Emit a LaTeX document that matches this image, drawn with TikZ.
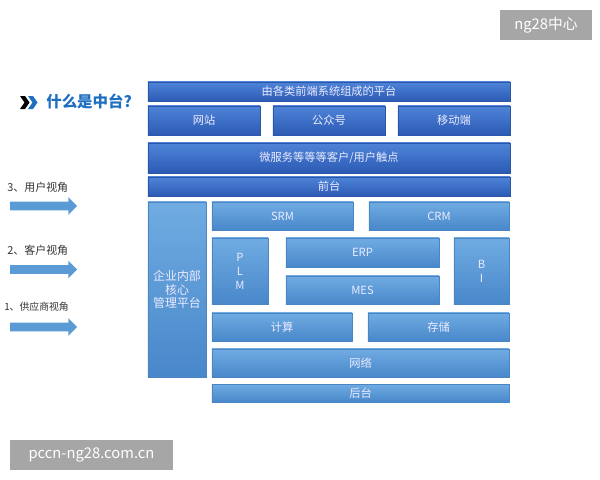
\documentclass[tikz,border=0pt]{standalone}
\usepackage{fontspec}
\setmainfont{Noto Sans CJK SC}
\usepackage{tikz}
\usetikzlibrary{shapes.arrows}

\definecolor{frontTop}{HTML}{4E84D8}
\definecolor{frontBot}{HTML}{2C5AB4}
\definecolor{frontEdge}{HTML}{2A55A8}
\definecolor{backTop}{HTML}{70ACE2}
\definecolor{backBot}{HTML}{4887CA}
\definecolor{backEdge}{HTML}{4A86C4}
\definecolor{titleBlue}{HTML}{1F6FC0}
\definecolor{arrowBlue}{HTML}{5B9BD5}
\definecolor{markGray}{HTML}{A6A6A6}

\begin{document}
\begin{tikzpicture}[x=0.025cm, y=-0.025cm,
    front/.style={draw=frontEdge, line width=0.3pt, top color=frontTop, bottom color=frontBot, text=white!92!blue, font=\fontsize{8}{10}\selectfont, inner sep=0pt, align=center},
    back/.style={draw=backEdge, line width=0.3pt, top color=backTop, bottom color=backBot, text=white!92!blue, font=\fontsize{8}{10}\selectfont, inner sep=0pt, align=center},
    view/.style={single arrow, fill=arrowBlue, inner sep=0.1cm, minimum width=0.425cm, minimum height=1.675cm, single arrow head extend=0.1125cm},
    viewlab/.style={anchor=west, inner sep=0pt, text=black!80, font=\fontsize{7.8}{10}\selectfont},
    wmark/.style={fill=markGray, text=white, inner sep=0pt, font=\fontsize{10.5}{12}\selectfont}
]
\useasboundingbox (0,0) rectangle (600,480);

% title
\fill (20,96) -- (25,96) -- (29.5,102.5) -- (25,109) -- (20,109) -- (24.5,102.5) -- cycle;
\fill[titleBlue] (28,96) -- (33,96) -- (37.5,102.5) -- (33,109) -- (28,109) -- (32.5,102.5) -- cycle;
\node[anchor=west, inner sep=0pt, text=titleBlue, font=\fontsize{11}{13}\selectfont\bfseries] (title) at (46,101) {什么是中台?};

% front layers
\node[front, minimum width=9.05cm, minimum height=0.475cm] (platform) at (329,91.5) {由各类前端系统组成的平台};
\node[front, minimum width=2.8cm, minimum height=0.725cm] (web) at (204,120.5) {网站};
\node[front, minimum width=2.8cm, minimum height=0.725cm] (wechat) at (329,120.5) {公众号};
\node[front, minimum width=2.8cm, minimum height=0.725cm] (mobile) at (454,120.5) {移动端};
\node[front, minimum width=9.05cm, minimum height=0.75cm] (touch) at (329,158) {微服务等等等客户/用户触点};
\node[front, minimum width=9.05cm, minimum height=0.475cm] (fore) at (329,186.5) {前台};

% core and back layers
\node[back, minimum width=1.45cm, minimum height=4.375cm, font=\fontsize{8.5}{9.6}\selectfont] (core) at (177,289.5) {企业内部\\核心\\管理平台};
\node[back, minimum width=3.525cm, minimum height=0.7cm] (srm) at (282.5,216) {SRM};
\node[back, minimum width=3.5cm, minimum height=0.7cm] (crm) at (439,216) {CRM};
\node[back, minimum width=1.4cm, minimum height=1.65cm] (plm) at (240,271) {P\\L\\M};
\node[back, minimum width=3.825cm, minimum height=0.725cm] (erp) at (362.5,252.5) {ERP};
\node[back, minimum width=3.825cm, minimum height=0.7cm] (mes) at (362.5,290) {MES};
\node[back, minimum width=1.375cm, minimum height=1.65cm] (bi) at (481.5,271) {B\\I};
\node[back, minimum width=3.5cm, minimum height=0.7cm] (compute) at (282,327) {计算};
\node[back, minimum width=3.525cm, minimum height=0.7cm] (storage) at (438.5,327) {存储};
\node[back, minimum width=7.425cm, minimum height=0.7cm] (network) at (360.5,363) {网络};
\node[back, minimum width=7.425cm, minimum height=0.45cm] (rear) at (360.5,393) {后台};

% views
\node[viewlab] (userlab) at (7,187) {3、用户视角};
\node[view] (userview) at (41.5,206) {};
\node[viewlab] (custlab) at (7,250) {2、客户视角};
\node[view] (custview) at (41.5,269.5) {};
\node[viewlab, font=\fontsize{7}{9}\selectfont] (supplab) at (4,307) {1、供应商视角};
\node[view] (suppview) at (41.5,327) {};

% watermarks
\node[wmark, minimum width=2.3cm, minimum height=0.75cm] (mark1) at (546,25) {ng28中心};
\node[wmark, minimum width=4.075cm, minimum height=0.75cm] (mark2) at (91.5,455) {pccn-ng28.com.cn};
\end{tikzpicture}
\end{document}
